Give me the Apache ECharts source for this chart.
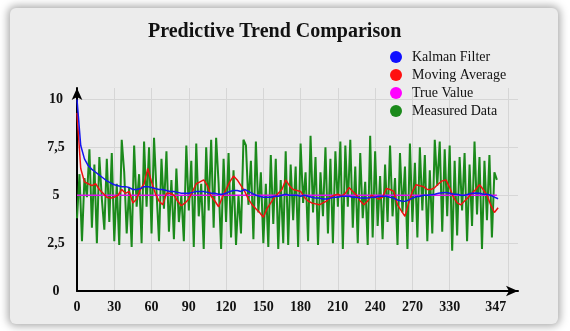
<!DOCTYPE html>
<html>
<head>
<meta charset="utf-8">
<script src="https://cdn.jsdelivr.net/npm/echarts@6/dist/echarts.min.js"></script>
<style>
html,body{margin:0;padding:0;background:#ffffff;}
#frame{position:absolute;left:10px;top:8px;width:548px;height:316px;background:#ececec;border-radius:6px;box-shadow:0 0 8px 2px rgba(0,0,0,0.35);}
#chart{position:absolute;left:0;top:0;width:570px;height:331px;}
</style>
</head>
<body>
<div id="frame"></div>
<div id="chart"></div>
<script>
// ---- data ----
const seriesNames = ['Kalman Filter', 'Moving Average', 'True Value', 'Measured Data'];

// measured data, one reading every 2 samples
const measuredStep = 2;
const measuredData = [
  3.8, 6.1, 2.6, 5.9, 4.9, 7.4, 3.3, 6.6, 2.5, 7.0, 4.8, 3.2, 6.9, 3.6, 7.2, 2.6, 5.6,
  2.4, 7.9, 6.2, 3.0, 5.4, 2.3, 7.6, 4.4, 6.1, 2.5, 7.8, 4.4, 7.5, 3.0, 8.0, 5.2, 2.6,
  6.9, 4.3, 7.3, 3.1, 5.8, 2.7, 6.4, 3.6, 5.0, 2.6, 7.6, 4.2, 6.8, 2.3, 7.7, 3.9, 5.6,
  2.2, 7.5, 4.2, 7.9, 3.3, 8.0, 5.6, 2.2, 6.9, 3.6, 7.2, 2.8, 6.3, 2.4, 5.0, 3.0, 7.9,
  7.6, 4.5, 6.8, 2.7, 7.8, 4.1, 6.2, 2.5, 5.6, 2.3, 7.1, 3.5, 6.9, 2.2, 5.8, 2.5, 7.3,
  2.4, 6.6, 3.7, 6.5, 2.3, 7.7, 4.6, 6.2, 2.6, 8.1, 4.1, 7.0, 2.4, 6.2, 3.9, 7.5, 3.0,
  6.9, 2.5, 7.3, 4.4, 7.8, 2.2, 7.6, 4.4, 7.9, 3.3, 6.5, 2.5, 7.2, 3.8, 5.7, 2.4, 8.1,
  2.8, 7.3, 3.4, 6.0, 2.7, 6.6, 3.6, 7.6, 3.9, 5.9, 2.4, 7.2, 4.1, 6.5, 2.2, 7.7, 3.6,
  6.7, 2.8, 7.5, 4.2, 7.1, 2.6, 6.3, 3.0, 7.9, 5.5, 7.8, 3.1, 7.4, 3.9, 7.6, 2.1, 6.8,
  2.9, 7.0, 4.2, 7.2, 2.6, 6.6, 3.4, 7.8, 4.0, 7.0, 2.2, 6.8, 3.7, 7.1, 2.8, 6.2, 5.8
];

// moving average and kalman, read every 3 samples
const smoothStep = 3;
const movingAverage = [
  9.3, 6.4, 5.7, 5.6, 5.5, 5.6, 5.3, 5.1, 4.9, 4.85, 4.9, 5.0, 5.3, 5.1, 5.2, 4.6, 4.8, 5.3, 5.6, 6.4,
  5.7, 5.1, 4.7, 4.5, 5.1, 5.1, 5.0, 4.7, 4.45, 4.6, 4.8, 5.2, 5.6, 5.7, 5.8, 5.5, 4.95, 4.7, 4.4, 4.9,
  5.3, 5.7, 6.0, 5.8, 5.5, 5.2, 4.8, 4.5, 4.3, 4.1, 3.85, 4.3, 4.6, 4.9, 5.1, 5.3, 5.8, 5.5, 5.3, 5.25,
  5.2, 4.9, 4.7, 4.6, 4.55, 4.5, 4.6, 4.7, 4.9, 5.0, 5.05, 4.95, 5.1, 5.4, 5.2, 5.0, 4.7, 4.5, 4.7, 5.0,
  4.9, 4.8, 4.9, 5.35, 5.3, 5.2, 4.5, 4.2, 3.9, 4.6, 5.2, 5.55, 5.5, 5.45, 5.3, 5.3, 5.4, 5.6, 5.75, 5.8,
  5.4, 4.9, 4.6, 4.5, 4.7, 4.9, 5.1, 5.3, 5.55, 5.3, 5.0, 4.5, 4.1, 4.35
];
const kalmanFilter = [
  10.0, 7.6, 6.9, 6.55, 6.35, 6.2, 6.05, 5.9, 5.75, 5.65, 5.55, 5.5, 5.45, 5.45, 5.4, 5.3, 5.3, 5.35, 5.45, 5.45,
  5.4, 5.35, 5.3, 5.3, 5.25, 5.2, 5.2, 5.15, 5.1, 5.1, 5.1, 5.15, 5.2, 5.2, 5.2, 5.15, 5.1, 5.1, 5.05, 5.05,
  5.1, 5.2, 5.25, 5.25, 5.2, 5.3, 5.2, 5.1, 5.0, 4.95, 4.9, 4.9, 4.9, 4.95, 4.95, 5.0, 5.05, 5.0, 5.0, 5.0,
  4.95, 5.0, 4.95, 4.9, 4.85, 4.85, 4.8, 4.8, 4.85, 4.9, 4.9, 4.95, 4.95, 4.95, 4.9, 4.9, 4.85, 4.85, 4.85, 4.9,
  4.9, 4.95, 4.95, 4.95, 4.9, 4.85, 4.75, 4.7, 4.68, 4.75, 4.85, 4.92, 4.95, 5.0, 5.0, 5.02, 5.05, 5.1, 5.13, 5.15,
  5.1, 5.05, 5.05, 5.0, 5.0, 5.05, 5.1, 5.12, 5.1, 5.05, 5.05, 5.0, 4.9, 4.82
];
const trueValue = 5;

// x-axis tick labels (as drawn in the reference) and where they sit
const xLabelValues = [0, 30, 60, 90, 120, 150, 180, 210, 240, 270, 300, 337];
const xLabelTexts  = ['0', '30', '60', '90', '120', '150', '180', '210', '240', '270', '330', '347'];
const xGridValues  = [0, 30, 60, 90, 120, 150, 180, 210, 240, 270, 300, 347];
const yTickValues  = [0, 2.5, 5, 7.5, 10];

// ---- build ----
const measuredPairs = measuredData.map((v, i) => [i * measuredStep, v]);
const maPairs = movingAverage.map((v, i) => [i * smoothStep, v]);
const kfPairs = kalmanFilter.map((v, i) => [i * smoothStep, v]);
const lastX = (measuredData.length - 1) * measuredStep;
const truePairs = [[0, trueValue], [lastX, trueValue]];

const serifFont = '"Liberation Serif", "DejaVu Serif", serif';
const chart = echarts.init(document.getElementById('chart'), null, {renderer: 'canvas'});

chart.setOption({
  backgroundColor: 'transparent',
  animation: false,
  title: {
    text: 'Predictive Trend Comparison',
    left: 143,
    top: 17,
    textStyle: {fontFamily: serifFont, fontWeight: 'bold', fontSize: 20, color: '#111'}
  },
  legend: {
    data: seriesNames,
    orient: 'vertical',
    left: 385,
    top: 45,
    icon: 'circle',
    itemWidth: 22,
    itemHeight: 12,
    itemGap: 4,
    textStyle: {fontFamily: serifFont, fontSize: 14, color: '#111', lineHeight: 14}
  },
  grid: {left: 77, right: 52, top: 88, bottom: 40},
  xAxis: {
    type: 'value',
    min: 0,
    max: 355,
    interval: 30,
    axisLine: {show: true, lineStyle: {color: '#000', width: 2}, symbol: ['none', 'arrow'], symbolSize: [8, 12]},
    axisTick: {show: false, customValues: xGridValues},
    axisLabel: {
      customValues: xLabelValues,
      formatter: function (v) { const k = xLabelValues.indexOf(v); return k >= 0 ? xLabelTexts[k] : ''; },
      fontFamily: serifFont, fontWeight: 'bold', fontSize: 14, color: '#111', margin: 9
    },
    splitLine: {show: true, lineStyle: {color: '#d6d6d6', width: 1}}
  },
  yAxis: {
    type: 'value',
    min: 0,
    max: 10.6,
    interval: 2.5,
    axisLine: {show: true, lineStyle: {color: '#000', width: 2}, symbol: ['none', 'arrow'], symbolSize: [8, 12]},
    axisTick: {show: false},
    axisLabel: {
      formatter: function (v) { return yTickValues.indexOf(v) >= 0 ? String(v).replace('.', ',') : ''; },
      fontFamily: serifFont, fontWeight: 'bold', fontSize: 14, color: '#111', align: 'center', margin: 21
    },
    splitLine: {show: true, lineStyle: {color: ['#d6d6d6', '#d6d6d6', '#d6d6d6', '#d6d6d6', '#d6d6d6', 'rgba(0,0,0,0)'], width: 1}}
  },
  series: [
    {name: 'Measured Data', type: 'line', data: measuredPairs, showSymbol: false, symbol: 'circle',
     itemStyle: {color: '#1b8a1b'}, lineStyle: {color: '#1b8a1b', width: 2}, z: 1},
    {name: 'True Value', type: 'line', data: truePairs, showSymbol: false, symbol: 'circle',
     itemStyle: {color: '#ff00ff'}, lineStyle: {color: '#dd10ee', width: 1.5}, z: 2},
    {name: 'Moving Average', type: 'line', data: maPairs, showSymbol: false, symbol: 'circle',
     itemStyle: {color: '#ff1010'}, lineStyle: {color: '#ee1111', width: 1.5}, z: 3},
    {name: 'Kalman Filter', type: 'line', data: kfPairs, showSymbol: false, symbol: 'circle',
     itemStyle: {color: '#1010ff'}, lineStyle: {color: '#1515ee', width: 1.5}, z: 4}
  ]
});
</script>
</body>
</html>
